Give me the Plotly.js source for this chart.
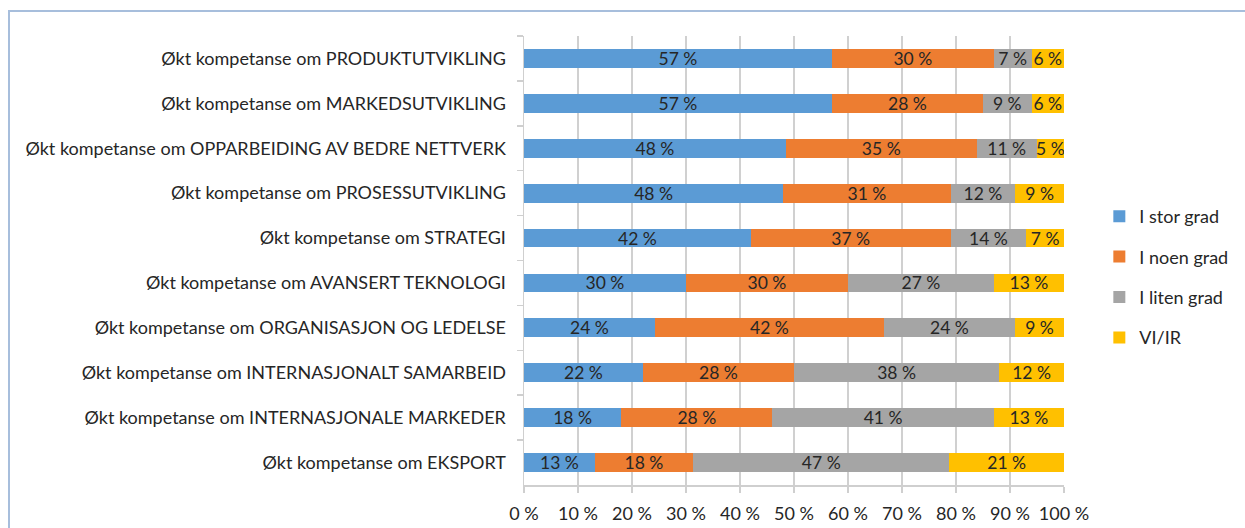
<!DOCTYPE html>
<html>
<head>
<meta charset="utf-8">
<script src="https://cdn.plot.ly/plotly-3.0.1.min.js"></script>
<style>
  html, body { margin: 0; padding: 0; background: #ffffff; }
  #wrap { position: relative; width: 1245px; height: 528px; overflow: hidden; }
  #frame { position: absolute; left: 8px; top: 10px; width: 1400px; height: 700px;
           border-left: 2px solid #a7bedc; border-top: 2px solid #a7bedc; pointer-events: none; }
  #chart { position: absolute; left: 0; top: 0; width: 1245px; height: 528px; }
</style>
</head>
<body>
<div id="wrap">
  <div id="chart"></div>
  <div id="frame"></div>
</div>
<script>
const categories = [
  "Økt kompetanse om PRODUKTUTVIKLING",
  "Økt kompetanse om MARKEDSUTVIKLING",
  "Økt kompetanse om OPPARBEIDING AV BEDRE NETTVERK",
  "Økt kompetanse om PROSESSUTVIKLING",
  "Økt kompetanse om STRATEGI",
  "Økt kompetanse om AVANSERT TEKNOLOGI",
  "Økt kompetanse om ORGANISASJON OG LEDELSE",
  "Økt kompetanse om INTERNASJONALT SAMARBEID",
  "Økt kompetanse om INTERNASJONALE MARKEDER",
  "Økt kompetanse om EKSPORT"
];
const seriesNames = ["I stor grad", "I noen grad", "I liten grad", "VI/IR"];
const iStorGrad  = [57, 57, 48, 48, 42, 30, 24, 22, 18, 13];
const iNoenGrad  = [30, 28, 35, 31, 37, 30, 42, 28, 28, 18];
const iLitenGrad = [7, 9, 11, 12, 14, 27, 24, 38, 41, 47];
const viIr       = [6, 6, 5, 9, 7, 13, 9, 12, 13, 21];
const xTickVals  = [0, 10, 20, 30, 40, 50, 60, 70, 80, 90, 100];
const xTickText  = ["0 %", "10 %", "20 %", "30 %", "40 %", "50 %", "60 %", "70 %", "80 %", "90 %", "100 %"];

const colors = ["#5b9bd5", "#ed7d31", "#a5a5a5", "#ffc000"];
const seriesValues = [iStorGrad, iNoenGrad, iLitenGrad, viIr];
const FONT = "Lato, 'Open Sans', sans-serif";

const traces = seriesValues.map((vals, i) => ({
  type: "bar",
  orientation: "h",
  name: seriesNames[i],
  legendgroup: "g" + i,
  y: categories,
  x: vals,
  text: vals.map(v => v + " %"),
  texttemplate: "%{text}",
  textposition: "inside",
  insidetextanchor: "middle",
  textangle: 0,
  textfont: { family: FONT, size: 17.5, color: "#262626" },
  marker: { color: colors[i], line: { width: 0 } },
  width: 0.42,
  hoverinfo: "skip"
}));

const layout = {
  width: 1245,
  height: 528,
  barmode: "stack",
  barnorm: "percent",
  paper_bgcolor: "rgba(0,0,0,0)",
  plot_bgcolor: "#ffffff",
  margin: { l: 524, r: 181, t: 36, b: 43, pad: 0, autoexpand: false },
  font: { family: FONT, size: 17, color: "#262626" },
  uniformtext: { mode: "show", minsize: 17.5 },
  showlegend: true,
  legend: {
    xref: "container", yref: "container",
    x: 0.883, y: 0.625, xanchor: "left", yanchor: "top",
    traceorder: "grouped",
    font: { family: FONT, size: 18, color: "#262626" },
    itemwidth: 30,
    tracegroupgap: 14,
    bgcolor: "rgba(0,0,0,0)"
  },
  xaxis: {
    range: [0, 100],
    tickvals: xTickVals,
    ticktext: xTickText,
    showgrid: true,
    gridcolor: "#d0d0d0",
    gridwidth: 1.5,
    zeroline: false,
    showline: true,
    linecolor: "#cfcfcf",
    linewidth: 1.5,
    ticks: "outside",
    ticklen: 6,
    tickcolor: "#cfcfcf",
    tickwidth: 1.5,
    ticklabelstandoff: 6,
    tickfont: { family: FONT, size: 18, color: "#262626" },
    fixedrange: true
  },
  yaxis: {
    type: "category",
    autorange: "reversed",
    showgrid: false,
    showline: true,
    linecolor: "#cfcfcf",
    linewidth: 1.5,
    ticks: "outside",
    tickson: "boundaries",
    ticklen: 6,
    tickcolor: "#cfcfcf",
    tickwidth: 1.5,
    tickfont: { family: FONT, size: 18, color: "#262626" },
    ticklabelstandoff: 13,
    fixedrange: true
  }
};

Plotly.newPlot("chart", traces, layout, { displayModeBar: false, staticPlot: true });
</script>
</body>
</html>
